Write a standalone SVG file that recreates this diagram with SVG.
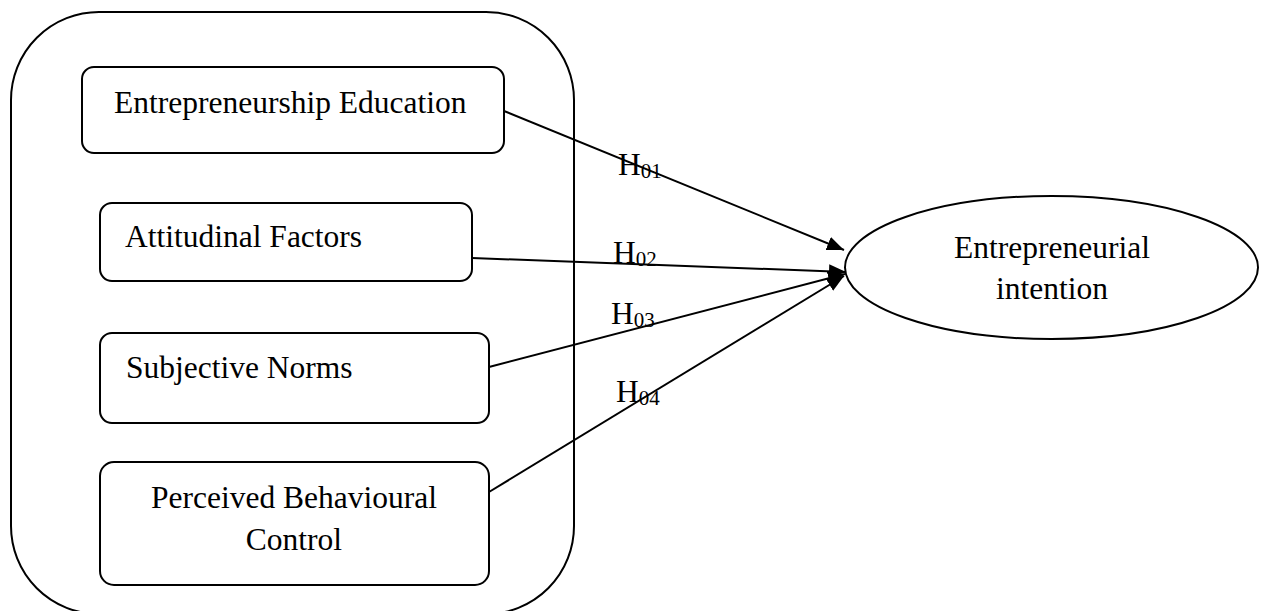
<svg xmlns="http://www.w3.org/2000/svg" width="1262" height="611" viewBox="0 0 1262 611">
<style>
.box{fill:#fff;stroke:#000;stroke-width:2}
.t{font-family:"Liberation Serif","Times New Roman",serif;font-size:31.5px;fill:#000}
.h{font-family:"Liberation Serif","Times New Roman",serif;font-size:31.5px;fill:#000}
.sub{font-size:21px}
.c{fill:none;stroke:#000;stroke-width:2}
</style>
<defs>
<marker id="arr" markerUnits="userSpaceOnUse" markerWidth="18" markerHeight="14" refX="17" refY="7" orient="auto">
<path d="M0,0 L17,7 L0,14 z" fill="#000"/>
</marker>
</defs>
<rect id="group" x="11" y="12" width="563" height="602" rx="88" ry="88" fill="none" stroke="#000" stroke-width="2"/>
<g id="n-education">
<rect class="box" x="82" y="67" width="422" height="86" rx="12"/>
<text class="t" x="114" y="113">Entrepreneurship Education</text>
</g>
<g id="n-attitudinal">
<rect class="box" x="100" y="203" width="372" height="78" rx="12"/>
<text class="t" x="125" y="247">Attitudinal Factors</text>
</g>
<g id="n-subjective">
<rect class="box" x="100" y="333" width="389" height="90" rx="12"/>
<text class="t" x="126" y="378">Subjective Norms</text>
</g>
<g id="n-pbc">
<rect class="box" x="100" y="462" width="389" height="123" rx="14"/>
<text class="t" x="294" y="508" text-anchor="middle">Perceived Behavioural</text>
<text class="t" x="294" y="550" text-anchor="middle">Control</text>
</g>
<g id="n-intention">
<ellipse class="box" cx="1051.5" cy="267.5" rx="206.5" ry="71.5"/>
<text class="t" x="1052" y="258" text-anchor="middle">Entrepreneurial</text>
<text class="t" x="1052" y="299" text-anchor="middle">intention</text>
</g>
<g id="connectors">
<line class="c" x1="504" y1="111" x2="844" y2="250" marker-end="url(#arr)"/>
<line class="c" x1="472" y1="258" x2="846" y2="272" marker-end="url(#arr)"/>
<line class="c" x1="489" y1="367" x2="845" y2="274" marker-end="url(#arr)"/>
<line class="c" x1="489" y1="492" x2="844" y2="276" marker-end="url(#arr)"/>
<text class="h" x="618" y="175">H<tspan class="sub" dy="3">01</tspan></text>
<text class="h" x="613" y="263">H<tspan class="sub" dy="3">02</tspan></text>
<text class="h" x="611" y="324">H<tspan class="sub" dy="3">03</tspan></text>
<text class="h" x="616" y="402">H<tspan class="sub" dy="3">04</tspan></text>
</g>
</svg>
